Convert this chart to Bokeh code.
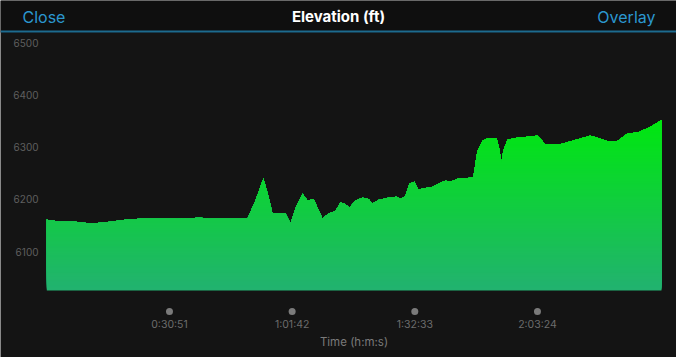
import numpy as np
from bokeh.plotting import figure
from bokeh.models import Range1d, Label, LabelSet, ColumnDataSource, BoxAnnotation
from bokeh.core.properties import value
from bokeh.embed import file_html
from bokeh.resources import INLINE

# ---- data ----
time_s = [0, 207, 433, 659, 810, 961, 1187, 1413, 1715, 1941, 2318, 2469, 3028, 3149,
          3269, 3345, 3405, 3601, 3677, 3768, 3858, 3933, 4024, 4160, 4250, 4356, 4431,
          4491, 4567, 4657, 4763, 4853, 4914, 5004, 5155, 5276, 5336, 5411, 5471, 5547,
          5607, 5713, 5818, 5939, 6014, 6090, 6210, 6316, 6437, 6497, 6573, 6663, 6784,
          6829, 6859, 6889, 6949, 7070, 7221, 7402, 7463, 7523, 7749, 7975, 8202, 8322,
          8458, 8609, 8760, 8926, 9107, 9182, 9275]
elev_ft = [6161, 6157, 6157, 6154, 6155, 6157, 6161, 6163, 6163, 6163, 6165, 6163, 6163, 6198,
           6240, 6205, 6173, 6173, 6154, 6188, 6211, 6198, 6201, 6163, 6173, 6178, 6194,
           6192, 6184, 6198, 6203, 6201, 6192, 6199, 6203, 6205, 6201, 6206, 6230, 6234,
           6219, 6222, 6224, 6232, 6236, 6234, 6240, 6240, 6243, 6293, 6312, 6318, 6318,
           6297, 6270, 6293, 6314, 6318, 6320, 6322, 6314, 6306, 6306, 6314, 6322, 6318,
           6312, 6312, 6326, 6329, 6339, 6345, 6352]
x_ticks = [1851, 3702, 5553, 7404]
x_tick_labels = ["0:30:51", "1:01:42", "1:32:33", "2:03:24"]
y_ticks = [6100, 6200, 6300, 6400, 6500]
y_tick_labels = ["6100", "6200", "6300", "6400", "6500"]

BG = "#141414"
HEADER_BG = "#0f0f0f"
BLUE = "#2b97cf"
FONT = "Inter"
W, H = 676, 357

# whole canvas is the frame; ranges chosen so the chart area sits at
# page x 46..661 and page y 32..290
p = figure(width=W, height=H, x_range=Range1d(-699, 9502), y_range=Range1d(5896.5, 6581.9),
           output_backend="svg", toolbar_location=None, x_axis_location=None,
           y_axis_location=None, min_border=0, background_fill_color=BG,
           border_fill_color=BG, outline_line_color=None)
p.xgrid.visible = False
p.ygrid.visible = False

# ---- header ----
p.add_layout(BoxAnnotation(bottom=H - 32, top=H, bottom_units="screen", top_units="screen",
                           fill_color=HEADER_BG, fill_alpha=1, line_color=None, level="underlay"))
p.add_layout(BoxAnnotation(bottom=H - 32, top=H - 30, bottom_units="screen", top_units="screen",
                           fill_color="#1d6b8f", fill_alpha=1, line_color=None))
p.add_layout(Label(x=22, y=H - 16, x_units="screen", y_units="screen", text="Close",
                   text_color=BLUE, text_font=FONT, text_font_size="16px",
                   text_align="left", text_baseline="middle"))
p.add_layout(Label(x=655, y=H - 16, x_units="screen", y_units="screen", text="Overlay",
                   text_color=BLUE, text_font=FONT, text_font_size="16px",
                   text_align="right", text_baseline="middle"))
p.add_layout(Label(x=338, y=H - 16, x_units="screen", y_units="screen", text="Elevation (ft)",
                   text_color="#ffffff", text_font=FONT, text_font_size="15px",
                   text_font_style="bold", text_align="center", text_baseline="middle"))

# ---- gradient-filled area: stacked bands, each clipped exactly to the profile ----
base = 6025
top_val = 6355
c_bot = np.array([34, 178, 112])
c_top = np.array([0, 232, 14])


def raise_to(xs, ys, b):
    """Polyline max(profile, b) with exact crossing points inserted."""
    ox, oy = [], []
    for i in range(len(xs)):
        if i > 0:
            y0, y1 = ys[i - 1], ys[i]
            if (y0 - b) * (y1 - b) < 0:
                t = (b - y0) / (y1 - y0)
                ox.append(xs[i - 1] + t * (xs[i] - xs[i - 1]))
                oy.append(b)
        ox.append(xs[i])
        oy.append(max(ys[i], b))
    return ox, oy


emax = max(elev_ft)
b = base
while b < emax:
    f = (b - base) / (top_val - base)
    c = c_bot + (c_top - c_bot) * f
    col = "#%02x%02x%02x" % tuple(int(round(v)) for v in c)
    if b == base:
        bx, by = list(time_s), list(elev_ft)
    else:
        bx, by = raise_to(time_s, elev_ft, b)
    p.varea(x=bx, y1=[b] * len(bx), y2=by, fill_color=col)
    b += 2.0

# tick dots
p.scatter(x=x_ticks, y=[5984.8] * len(x_ticks), size=7, marker="circle",
          fill_color="#7b7b7b", line_color=None)

# y tick labels
ysrc = ColumnDataSource(dict(x=[38] * len(y_ticks), y=y_ticks, t=y_tick_labels))
p.add_layout(LabelSet(x="x", y="y", text="t", source=ysrc, x_units="screen", y_units="data",
                      text_color="#5f5f5f", text_font=value(FONT), text_font_size="10px",
                      text_align="right", text_baseline="middle"))
# x tick labels
xsrc = ColumnDataSource(dict(x=x_ticks, y=[H - 324] * len(x_ticks), t=x_tick_labels))
p.add_layout(LabelSet(x="x", y="y", text="t", source=xsrc, x_units="data", y_units="screen",
                      text_color="#6c6c6c", text_font=value(FONT), text_font_size="10.5px",
                      text_align="center", text_baseline="middle"))
# axis title
p.add_layout(Label(x=353.5, y=H - 341, x_units="screen", y_units="screen", text="Time (h:m:s)",
                   text_color="#7a7a7a", text_font=FONT, text_font_size="11.5px",
                   text_align="center", text_baseline="middle"))

open("out.html", "w").write(file_html(p, INLINE))
